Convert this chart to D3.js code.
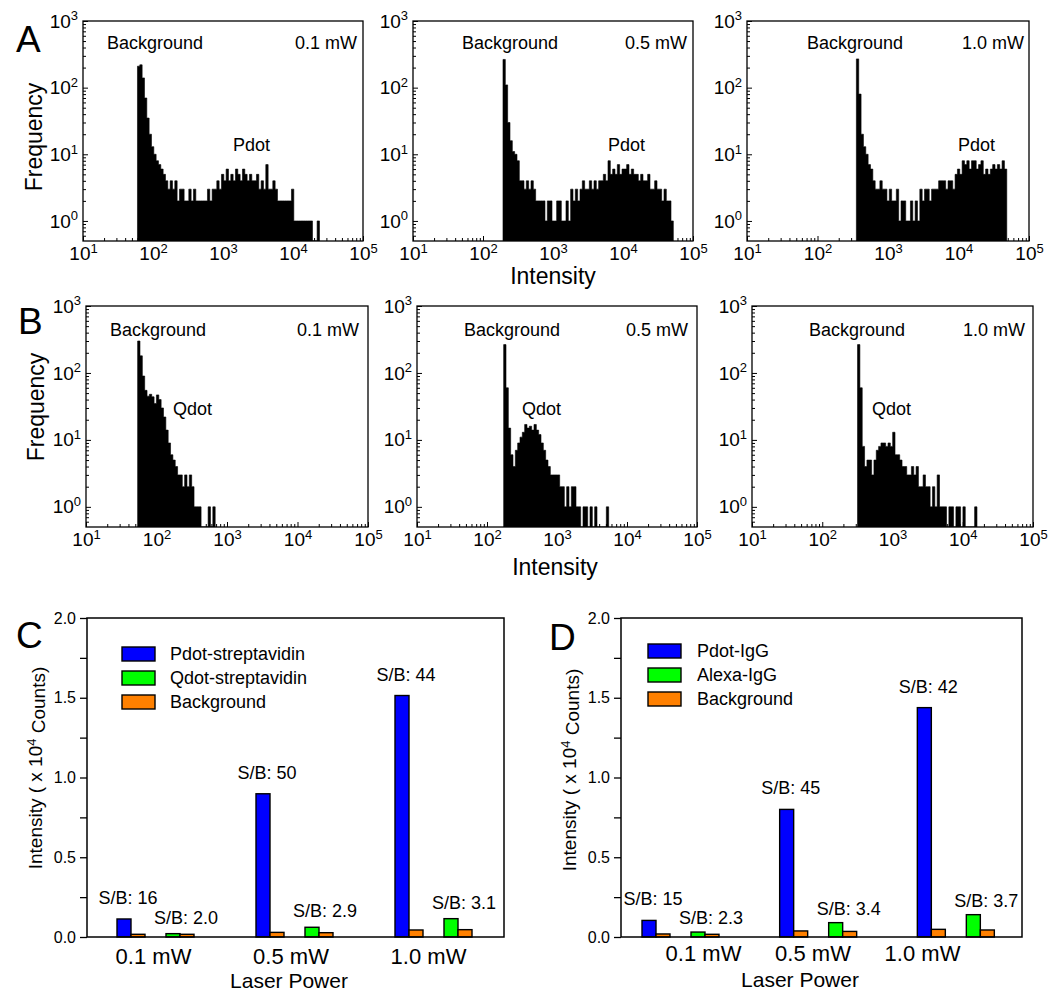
<!DOCTYPE html>
<html>
<head>
<meta charset="utf-8">
<script src="https://cdn.jsdelivr.net/npm/d3@7/dist/d3.min.js"></script>
<style>
  html, body { margin: 0; padding: 0; background: #fff; }
  svg { display: block; }
</style>
</head>
<body>
<script>
// ---------------- DATA ----------------
// Histogram counts (log-spaced bins, binsPerDecade per decade, starting at the given intensity)
const binsPerDecade = 30;
const histStarts = [60, 193, 356, 54, 173, 318];
const hA1 = [210,220,140,70,35,20,13,10,8,7,6,5,4,3,4,3,4,2,3,3,2,2,3,2,3,2,2,2,2,2,3,2,3,3,4,3,5,4,6,4,5,4,6,5,4,6,5,4,5,4,4,5,3,4,3,7,3,3,4,3,2,2,2,2,2,2,3,1,1,1,1,1,1,1,1,0,0,1];
const hA2 = [265,110,30,16,11,10,8,4,4,3,4,3,4,3,2,2,2,2,1,2,2,1,1,2,2,1,1,2,1,3,2,3,2,3,4,3,3,4,3,4,3,4,4,5,4,8,5,6,5,7,5,6,6,7,5,6,5,5,4,5,4,4,5,3,3,4,3,3,2,3,2,2,1];
const hA3 = [270,80,20,13,10,7,6,4,3,3,4,3,3,2,3,2,2,3,1,2,2,1,1,2,1,2,1,3,2,3,3,2,3,3,3,4,4,4,3,4,4,3,5,6,5,8,7,8,6,8,8,6,7,8,5,6,5,6,7,6,7,6,8,6];
const hB1 = [300,180,90,55,45,48,44,35,47,40,30,22,14,9,6,5,4,3,3,2,3,2,3,2,1,1,1,0,0,0,1,0,1];
const hB2 = [265,60,15,6,4,7,9,11,13,17,15,16,14,17,14,12,9,7,5,4,3,3,3,3,2,2,1,2,1,2,2,1,1,0,1,1,0,1,0,1,0,0,0,0,1];
const hB3 = [265,60,8,4,5,5,3,5,7,8,9,9,8,9,8,13,6,6,5,4,4,3,3,4,3,4,2,2,3,2,2,1,2,1,3,1,1,1,0,1,1,0,1,1,0,1,0,0,0,0,1];
const histMajorTicks = [10, 100, 1000, 10000, 100000];
const freqMajorTicks = [1, 10, 100, 1000];

const powers = ["0.1 mW", "0.5 mW", "1.0 mW"];
const dotNames = ["Pdot", "Qdot"];

// Panel C
const legendC = ["Pdot-streptavidin", "Qdot-streptavidin", "Background"];
const pdotStrep = [0.113, 0.898, 1.514];
const bgC1 = [0.017, 0.029, 0.044];
const qdotStrep = [0.021, 0.061, 0.115];
const bgC2 = [0.017, 0.027, 0.046];
const sbC1 = ["S/B: 16", "S/B: 50", "S/B: 44"];
const sbC2 = ["S/B: 2.0", "S/B: 2.9", "S/B: 3.1"];
// Panel D
const legendD = ["Pdot-IgG", "Alexa-IgG", "Background"];
const pdotIgG = [0.104, 0.800, 1.438];
const bgD1 = [0.019, 0.038, 0.048];
const alexaIgG = [0.031, 0.090, 0.140];
const bgD2 = [0.017, 0.035, 0.044];
const sbD1 = ["S/B: 15", "S/B: 45", "S/B: 42"];
const sbD2 = ["S/B: 2.3", "S/B: 3.4", "S/B: 3.7"];
const barTicks = [0, 0.5, 1.0, 1.5, 2.0];
const barMinorTicks = [0.25, 0.75, 1.25, 1.75];

// ---------------- STYLE / LAYOUT ----------------
const FONT = "'Liberation Sans', Arial, Helvetica, sans-serif";
const COLORS = ["#0000ff", "#00ff00", "#ff8000"];

const svg = d3.select("body").append("svg")
  .attr("width", 1050).attr("height", 1002)
  .attr("font-family", FONT);
svg.append("rect").attr("width", 1050).attr("height", 1002).attr("fill", "#fff");

const histData = [hA1, hA2, hA3, hB1, hB2, hB3];
const histLayout = [
  {left: 83,  right: 363,  top: 21,  bottom: 241, bg: [107, 49],  mw: [295, 49],  dot: [233, 151], row: 0, col: 0},
  {left: 413, right: 693,  top: 21,  bottom: 241, bg: [462, 49],  mw: [625, 49],  dot: [608, 151], row: 0, col: 1},
  {left: 747, right: 1029, top: 21,  bottom: 241, bg: [807, 49],  mw: [962, 49],  dot: [958, 151], row: 0, col: 2},
  {left: 86,  right: 368,  top: 306, bottom: 527, bg: [110, 336], mw: [297, 336], dot: [173, 415], row: 1, col: 0},
  {left: 417, right: 697,  top: 306, bottom: 527, bg: [464, 336], mw: [626, 336], dot: [522, 415], row: 1, col: 1},
  {left: 752, right: 1033, top: 306, bottom: 527, bg: [809, 336], mw: [963, 336], dot: [872, 415], row: 1, col: 2}
];

function supLabels(sel) {
  sel.selectAll(".tick text").each(function(d) {
    const t = d3.select(this);
    t.text(null);
    t.append("tspan").text("10");
    t.append("tspan").attr("dy", "-0.55em").attr("font-size", "13px")
      .text(Math.round(Math.log10(d)));
  });
}

function minorsLog(lo, hi) {
  const out = [];
  for (let e = lo; e < hi; e++) {
    for (let m = 2; m <= 9; m++) out.push(m * Math.pow(10, e));
  }
  return out;
}

histLayout.forEach((L, idx) => {
  const counts = histData[idx];
  const start = histStarts[idx];
  const x = d3.scaleLog().domain([10, 1e5]).range([L.left, L.right]);
  const y = d3.scaleLog().domain([0.5, 1000]).range([L.bottom, L.top]);
  const g = svg.append("g");
  const clipId = "clip" + idx;
  g.append("clipPath").attr("id", clipId).append("rect")
    .attr("x", L.left).attr("y", L.top).attr("width", L.right - L.left).attr("height", L.bottom - L.top);

  // step points: each bin start, plus closing point at last bin end
  const pts = counts.map((c, i) => ({ c, x: start * Math.pow(10, i / binsPerDecade) }));
  pts.push({ c: 0, x: start * Math.pow(10, counts.length / binsPerDecade) });

  const area = d3.area()
    .x(d => x(d.x))
    .y0(y(0.5))
    .y1(d => d.c > 0 ? y(d.c) : y(0.5))
    .curve(d3.curveStepAfter);

  g.append("path").attr("clip-path", `url(#${clipId})`)
    .datum(pts)
    .attr("d", area)
    .attr("fill", "#000")
    .attr("stroke", "#000").attr("stroke-width", 0.6);

  // axes (ticks inward)
  const xa = g.append("g").attr("transform", `translate(0,${L.bottom})`)
    .call(d3.axisBottom(x).tickValues(histMajorTicks).tickSize(-5).tickPadding(6).tickFormat(d => d));
  xa.select(".domain").remove();
  xa.selectAll("text").attr("font-size", "19px").attr("font-family", FONT).attr("fill", "#000");
  supLabels(xa);
  const xm = g.append("g").attr("transform", `translate(0,${L.bottom})`)
    .call(d3.axisBottom(x).tickValues(minorsLog(1, 5)).tickSize(-3).tickFormat(""));
  xm.select(".domain").remove();

  const ya = g.append("g").attr("transform", `translate(${L.left},0)`)
    .call(d3.axisLeft(y).tickValues(freqMajorTicks).tickSize(-5).tickPadding(5).tickFormat(d => d));
  ya.select(".domain").remove();
  ya.selectAll("text").attr("font-size", "19px").attr("font-family", FONT).attr("fill", "#000");
  supLabels(ya);
  const yMinor = [0.6, 0.7, 0.8, 0.9].concat(minorsLog(0, 3));
  const ym = g.append("g").attr("transform", `translate(${L.left},0)`)
    .call(d3.axisLeft(y).tickValues(yMinor).tickSize(-3).tickFormat(""));
  ym.select(".domain").remove();
  g.selectAll(".tick line").attr("stroke", "#000").attr("stroke-width", 1);

  g.append("rect").attr("x", L.left).attr("y", L.top)
    .attr("width", L.right - L.left).attr("height", L.bottom - L.top)
    .attr("fill", "none").attr("stroke", "#000").attr("stroke-width", 1.3);

  // annotations
  g.append("text").attr("x", L.bg[0]).attr("y", L.bg[1]).attr("font-size", "18px").text("Background");
  g.append("text").attr("x", L.mw[0]).attr("y", L.mw[1]).attr("font-size", "18px").text(powers[L.col]);
  g.append("text").attr("x", L.dot[0]).attr("y", L.dot[1]).attr("font-size", "18px").text(dotNames[L.row]);
});

// Row titles
svg.append("text").attr("x", 16).attr("y", 52).attr("font-size", "37px").text("A");
svg.append("text").attr("x", 18).attr("y", 334).attr("font-size", "37px").text("B");
svg.append("text").attr("transform", "translate(42,137) rotate(-90)").attr("text-anchor", "middle")
  .attr("font-size", "23px").text("Frequency");
svg.append("text").attr("transform", "translate(44,407) rotate(-90)").attr("text-anchor", "middle")
  .attr("font-size", "23px").text("Frequency");
svg.append("text").attr("x", 553).attr("y", 284).attr("text-anchor", "middle").attr("font-size", "23px").text("Intensity");
svg.append("text").attr("x", 555).attr("y", 575).attr("text-anchor", "middle").attr("font-size", "23px").text("Intensity");

// ---------------- BAR CHARTS ----------------
const barLayouts = [
  {left: 87, right: 504, top: 618, bottom: 937, band: [87, 504], labelRange: [153, 428], letter: "C", letterPos: [16, 648],
   yTitle: [42, 768], laser: [289, 988], catY: 963, legendBox: [122, 647], legendText: 170,
   series: [pdotStrep, bgC1, qdotStrep, bgC2], sb1: sbC1, sb2: sbC2, legend: legendC, off1: 15, off2: 10},
  {left: 621, right: 1022, top: 618, bottom: 937, band: [612, 1025], labelRange: [703, 922], letter: "D", letterPos: [549, 650],
   yTitle: [576, 770], laser: [800, 987], catY: 960, legendBox: [648, 644], legendText: 697,
   series: [pdotIgG, bgD1, alexaIgG, bgD2], sb1: sbD1, sb2: sbD2, legend: legendD, off1: 15, off2: 8}
];
const slotOffsets = [30, 44, 79, 93];
const slotColors = [COLORS[0], COLORS[2], COLORS[1], COLORS[2]];
const barW = 14;

barLayouts.forEach(B => {
  const g = svg.append("g");
  const y = d3.scaleLinear().domain([0, 2]).range([B.bottom, B.top]);
  const xb = d3.scaleBand().domain(powers).range(B.band).padding(0);
  const xl = d3.scalePoint().domain(powers).range(B.labelRange);

  B.series.forEach((vals, s) => {
    g.append("g").selectAll("rect").data(vals).join("rect")
      .attr("x", (d, i) => xb(powers[i]) + slotOffsets[s])
      .attr("width", barW)
      .attr("y", d => y(d))
      .attr("height", d => y(0) - y(d))
      .attr("fill", slotColors[s])
      .attr("stroke", "#000").attr("stroke-width", 1.4);
  });

  // S/B labels
  g.append("g").selectAll("text").data(B.sb1).join("text")
    .attr("x", (d, i) => xb(powers[i]) + slotOffsets[0] + barW / 2 + 4)
    .attr("y", (d, i) => y(B.series[0][i]) - B.off1)
    .attr("text-anchor", "middle").attr("font-size", "18px").text(d => d);
  g.append("g").selectAll("text").data(B.sb2).join("text")
    .attr("x", (d, i) => xb(powers[i]) + slotOffsets[2] + barW + 6)
    .attr("y", (d, i) => y(B.series[2][i]) - B.off2)
    .attr("text-anchor", "middle").attr("font-size", "18px").text(d => d);

  // Y axis
  const ya = g.append("g").attr("transform", `translate(${B.left},0)`)
    .call(d3.axisLeft(y).tickValues(barTicks).tickSize(7).tickPadding(4).tickFormat(d3.format(".1f")));
  ya.select(".domain").remove();
  ya.selectAll("text").attr("font-size", "16px").attr("font-family", FONT).attr("fill", "#000");
  const ym = g.append("g").attr("transform", `translate(${B.left},0)`)
    .call(d3.axisLeft(y).tickValues(barMinorTicks).tickSize(7).tickFormat(""));
  ym.select(".domain").remove();
  g.selectAll(".tick line").attr("stroke", "#000").attr("stroke-width", 1.3);

  // Category axis (labels only)
  const xa = g.append("g").attr("transform", `translate(0,${B.catY - 16})`)
    .call(d3.axisBottom(xl).tickSize(0).tickPadding(0));
  xa.select(".domain").remove();
  xa.selectAll("text").attr("font-size", "22px").attr("font-family", FONT).attr("fill", "#000").attr("dy", "0.75em");

  // Frame
  g.append("rect").attr("x", B.left).attr("y", B.top)
    .attr("width", B.right - B.left).attr("height", B.bottom - B.top)
    .attr("fill", "none").attr("stroke", "#000").attr("stroke-width", 1.5);

  // Legend
  B.legend.forEach((name, i) => {
    g.append("rect").attr("x", B.legendBox[0]).attr("y", B.legendBox[1] + i * 24)
      .attr("width", 33).attr("height", 14)
      .attr("fill", COLORS[i]).attr("stroke", "#000").attr("stroke-width", 1.4);
    g.append("text").attr("x", B.legendText).attr("y", B.legendBox[1] + i * 24 + 13)
      .attr("font-size", "18px").text(name);
  });

  // Titles
  g.append("text").attr("x", B.letterPos[0]).attr("y", B.letterPos[1]).attr("font-size", "37px").text(B.letter);
  g.append("text").attr("x", B.laser[0]).attr("y", B.laser[1]).attr("text-anchor", "middle")
    .attr("font-size", "21px").text("Laser Power");
  const yt = g.append("text").attr("transform", `translate(${B.yTitle[0]},${B.yTitle[1]}) rotate(-90)`)
    .attr("text-anchor", "middle").attr("font-size", "19px");
  yt.append("tspan").text("Intensity ( x 10");
  yt.append("tspan").attr("dy", "-0.5em").attr("font-size", "13px").text("4");
  yt.append("tspan").attr("dy", "0.5em").text(" Counts)");
});
</script>
</body>
</html>
